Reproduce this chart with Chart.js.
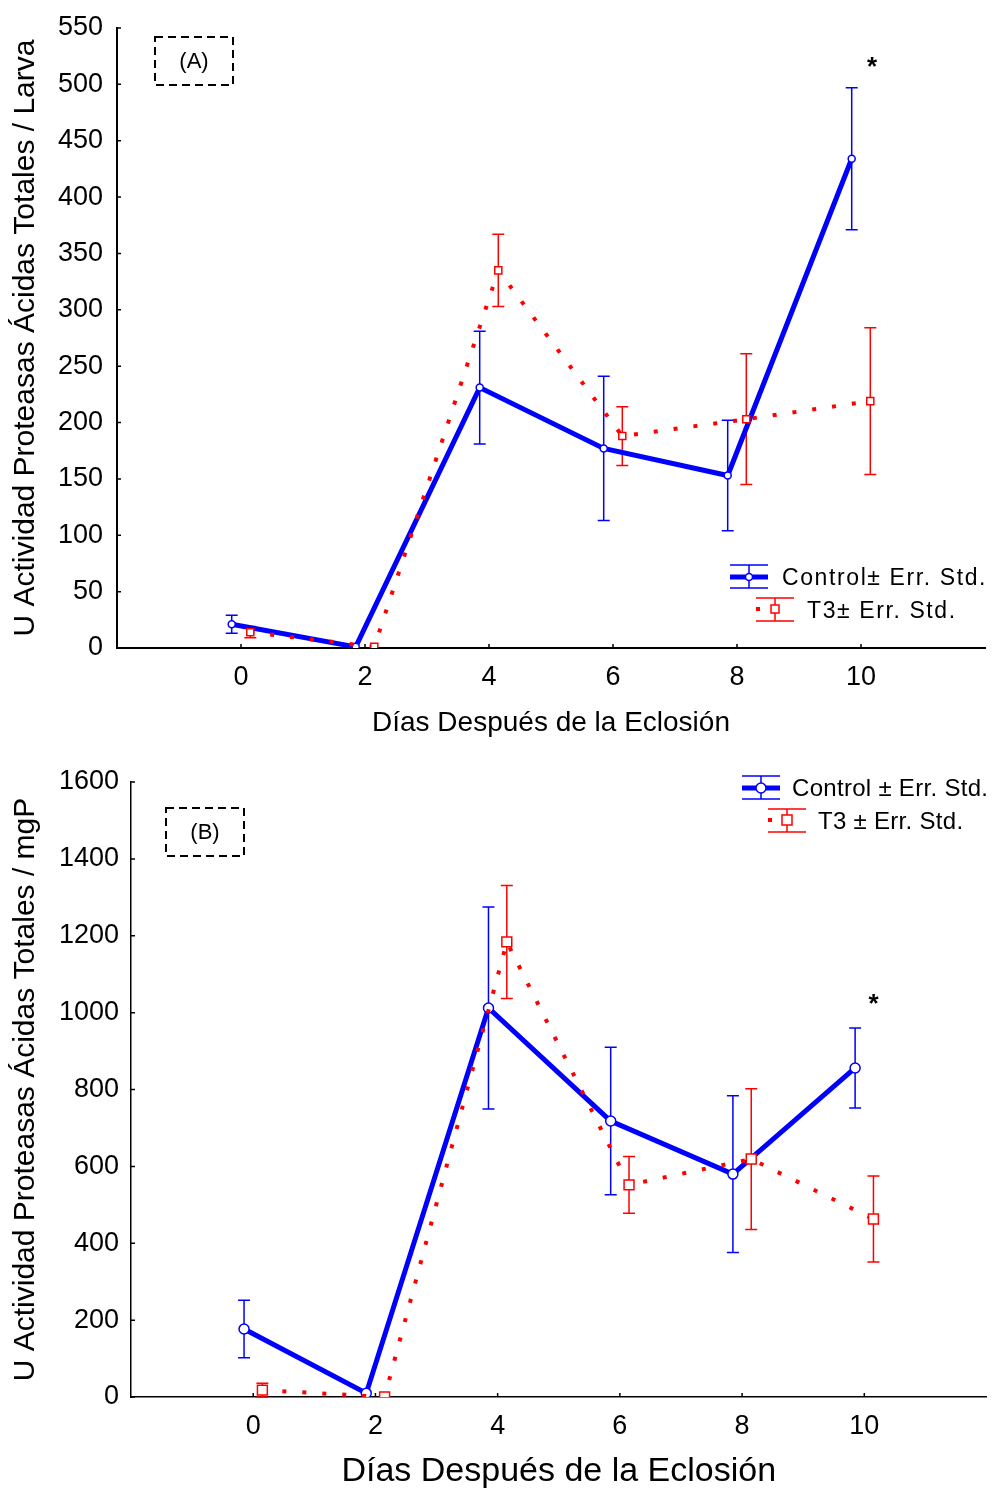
<!DOCTYPE html>
<html>
<head>
<meta charset="utf-8">
<script src="https://cdn.jsdelivr.net/npm/chart.js@4/dist/chart.umd.min.js"></script>
<style>
  body { margin: 0; background: #fff; }
  canvas { display: block; }
</style>
</head>
<body>
<canvas id="grafA" width="995" height="745"></canvas>
<canvas id="grafB" width="995" height="745"></canvas>
<script>
// Días después de la eclosión
const dias = [0, 2, 4, 6, 8, 10];
const etiquetasX = [0, 2, 4, 6, 8, 10];

// (A) U / Larva
const controlA = [21, 1, 231, 177, 153, 434];
const errControlA = [8, 0, 50, 64, 49, 63];
const t3A = [14, 1, 335, 188, 203, 219];
const errT3A = [5, 0, 32, 26, 58, 65];
const asteriscoA = [10.18, 515];

// (B) U / mgP
const controlB = [177, 10, 1012, 718, 580, 856];
const errControlB = [75, 0, 263, 192, 204, 104];
const t3B = [18, 0, 1184, 552, 619, 463];
const errT3B = [18, 0, 147, 74, 183, 112];
const asteriscoB = [10.15, 1020];

const FUENTE = "'Liberation Sans', Arial, sans-serif";
const AZUL = "#0000ff";
const ROJO = "#ff0000";

function dibujarBarrasError(chart) {
  const ctx = chart.ctx;
  const ys = chart.scales.y;
  chart.data.datasets.forEach((ds, i) => {
    const meta = chart.getDatasetMeta(i);
    ctx.save();
    ctx.strokeStyle = ds.borderColor;
    ctx.lineWidth = 1.5;
    ds.data.forEach((pt, j) => {
      const e = ds.err[j];
      if (!e) return;
      const x = meta.data[j].x;
      const y1 = ys.getPixelForValue(pt.y + e);
      const y2 = ys.getPixelForValue(Math.max(0, pt.y - e));
      ctx.beginPath();
      ctx.moveTo(x, y1); ctx.lineTo(x, y2);
      ctx.moveTo(x - 6, y1); ctx.lineTo(x + 6, y1);
      ctx.moveTo(x - 6, y2); ctx.lineTo(x + 6, y2);
      ctx.stroke();
    });
    ctx.restore();
  });
}

function crearGrafico(id, p) {
  const desp = 0.15;
  new Chart(document.getElementById(id), {
    type: "line",
    data: {
      datasets: [
        {
          label: "Control",
          data: dias.map((d, i) => ({ x: d - desp, y: p.control[i] })),
          err: p.errControl,
          borderColor: AZUL,
          borderWidth: 5,
          pointRadius: p.radioC,
          pointBackgroundColor: "#fff",
          pointBorderColor: AZUL,
          pointBorderWidth: 1.5,
          order: 2
        },
        {
          label: "T3",
          data: dias.map((d, i) => ({ x: d + desp, y: p.t3[i] })),
          err: p.errT3,
          borderColor: ROJO,
          borderWidth: 4,
          borderDash: [4, 16],
          pointStyle: "rect",
          pointRadius: p.radioT,
          pointBackgroundColor: "#fff",
          pointBorderColor: ROJO,
          pointBorderWidth: 1.5,
          order: 1
        }
      ]
    },
    options: {
      responsive: false,
      animation: false,
      events: [],
      layout: { padding: { top: p.arriba, right: p.derecha, left: 0, bottom: 0 } },
      plugins: { legend: { display: false }, tooltip: { enabled: false } },
      scales: {
        x: {
          type: "linear",
          min: -2,
          max: 12,
          grid: { display: false },
          border: { display: true, color: "#000", width: p.grosorEje },
          ticks: {
            stepSize: 2,
            color: "#000",
            padding: p.padX,
            font: { family: FUENTE, size: p.tamTick },
            callback: v => (etiquetasX.includes(v) ? String(v) : "")
          },
          title: {
            display: true,
            text: "Días Después de la Eclosión",
            color: "#000",
            font: { family: FUENTE, size: p.tamTituloX, lineHeight: 1.1 },
            padding: { top: 0, bottom: p.padTituloX }
          },
          afterFit: s => { s.height = p.altoX; }
        },
        y: {
          min: 0,
          max: p.maxY,
          grid: { display: false },
          border: { display: true, color: "#000", width: p.grosorEje },
          ticks: {
            stepSize: p.pasoY,
            color: "#000",
            padding: p.padY,
            font: { family: FUENTE, size: p.tamTick },
            callback: v => String(v)
          },
          title: {
            display: true,
            text: p.tituloY,
            color: "#000",
            font: { family: FUENTE, size: p.tamTituloY, lineHeight: 1.1 },
            padding: { top: 9, bottom: 0 }
          },
          afterFit: s => { s.width = p.anchoY; }
        }
      }
    },
    plugins: [{
      id: "extras",
      beforeDatasetsDraw(chart) {
        dibujarBarrasError(chart);
      },
      afterDraw(chart) {
        const ctx = chart.ctx;
        const xs = chart.scales.x, ys = chart.scales.y;
        const area = chart.chartArea;
        ctx.save();
        // marcas hacia adentro
        ctx.strokeStyle = "#000";
        ctx.lineWidth = 1.5;
        ctx.beginPath();
        ys.ticks.forEach(t => {
          const y = ys.getPixelForValue(t.value);
          ctx.moveTo(area.left, y); ctx.lineTo(area.left + 4, y);
        });
        etiquetasX.forEach(v => {
          const x = xs.getPixelForValue(v);
          ctx.moveTo(x, area.bottom); ctx.lineTo(x, area.bottom - 4);
        });
        ctx.stroke();

        // recuadro (A)/(B)
        const r = p.recuadro;
        ctx.setLineDash([8, 5]);
        ctx.lineWidth = 2;
        ctx.strokeRect(r.x, r.y, r.w, r.h);
        ctx.setLineDash([]);
        ctx.fillStyle = "#000";
        ctx.font = "22px " + FUENTE;
        ctx.textAlign = "center";
        ctx.textBaseline = "middle";
        ctx.fillText(r.texto, r.x + r.w / 2, r.y + r.h / 2 + 1);

        // asterisco
        ctx.font = "bold 26px " + FUENTE;
        ctx.fillText("*", xs.getPixelForValue(p.asterisco[0]), ys.getPixelForValue(p.asterisco[1]));

        // leyenda
        const L = p.leyenda;
        ctx.textAlign = "left";
        ctx.textBaseline = "alphabetic";
        ctx.font = L.tam + "px " + FUENTE;
        ctx.letterSpacing = L.espacio + "px";
        // Control
        let x0 = L.cx, yc = L.cy, w = 38;
        ctx.strokeStyle = AZUL;
        ctx.lineWidth = 1.5;
        ctx.beginPath();
        ctx.moveTo(x0, yc - 12); ctx.lineTo(x0 + w, yc - 12);
        ctx.moveTo(x0, yc + 11); ctx.lineTo(x0 + w, yc + 11);
        ctx.moveTo(x0 + w / 2, yc - 12); ctx.lineTo(x0 + w / 2, yc + 11);
        ctx.stroke();
        ctx.lineWidth = 5;
        ctx.beginPath();
        ctx.moveTo(x0, yc); ctx.lineTo(x0 + w, yc);
        ctx.stroke();
        ctx.lineWidth = 1.5;
        ctx.fillStyle = "#fff";
        ctx.beginPath();
        ctx.arc(x0 + w / 2, yc, L.rc, 0, Math.PI * 2);
        ctx.fill(); ctx.stroke();
        ctx.fillStyle = "#000";
        ctx.fillText(L.textoC, L.tcx, yc + 8);
        // T3
        x0 = L.tx; yc = L.ty;
        ctx.strokeStyle = ROJO;
        ctx.beginPath();
        ctx.moveTo(x0, yc - 11); ctx.lineTo(x0 + w, yc - 11);
        ctx.moveTo(x0, yc + 12); ctx.lineTo(x0 + w, yc + 12);
        ctx.moveTo(x0 + w / 2, yc - 11); ctx.lineTo(x0 + w / 2, yc + 12);
        ctx.stroke();
        ctx.fillStyle = ROJO;
        ctx.fillRect(x0, yc - 2, 4, 4);
        ctx.fillStyle = "#fff";
        ctx.fillRect(x0 + w / 2 - L.rt, yc - L.rt, 2 * L.rt, 2 * L.rt);
        ctx.strokeRect(x0 + w / 2 - L.rt, yc - L.rt, 2 * L.rt, 2 * L.rt);
        ctx.fillStyle = "#000";
        ctx.fillText(L.textoT, L.ttx, yc + 9);
        ctx.restore();
      }
    }]
  });
}

crearGrafico("grafA", {
  control: controlA, errControl: errControlA, t3: t3A, errT3: errT3A,
  maxY: 550, pasoY: 50,
  tituloY: "U Actividad Proteasas Ácidas Totales / Larva",
  arriba: 28, derecha: 10, anchoY: 117, altoX: 97, grosorEje: 2,
  padX: 5, padY: 6, padTituloX: 6,
  tamTick: 27, tamTituloX: 28, tamTituloY: 30,
  radioC: 3.5, radioT: 5,
  recuadro: { x: 155, y: 37, w: 78, h: 48, texto: "(A)" },
  asterisco: asteriscoA,
  leyenda: {
    cx: 730, cy: 577, tcx: 782, tx: 756, ty: 609, ttx: 807,
    tam: 23, espacio: 1.6, rc: 3.5, rt: 4,
    textoC: "Control± Err. Std.", textoT: "T3± Err. Std."
  }
});

crearGrafico("grafB", {
  control: controlB, errControl: errControlB, t3: t3B, errT3: errT3B,
  maxY: 1600, pasoY: 200,
  tituloY: "U Actividad Proteasas Ácidas Totales / mgP",
  arriba: 37, derecha: 6, anchoY: 131, altoX: 93, grosorEje: 1.5,
  padX: 5, padY: 4, padTituloX: 0,
  tamTick: 27, tamTituloX: 34, tamTituloY: 30,
  radioC: 5, radioT: 7,
  recuadro: { x: 166, y: 63, w: 78, h: 48, texto: "(B)" },
  asterisco: asteriscoB,
  leyenda: {
    cx: 742, cy: 43, tcx: 792, tx: 768, ty: 75, ttx: 818,
    tam: 24, espacio: 0.3, rc: 5, rt: 5,
    textoC: "Control ± Err. Std.", textoT: "T3 ± Err. Std."
  }
});
</script>
</body>
</html>
